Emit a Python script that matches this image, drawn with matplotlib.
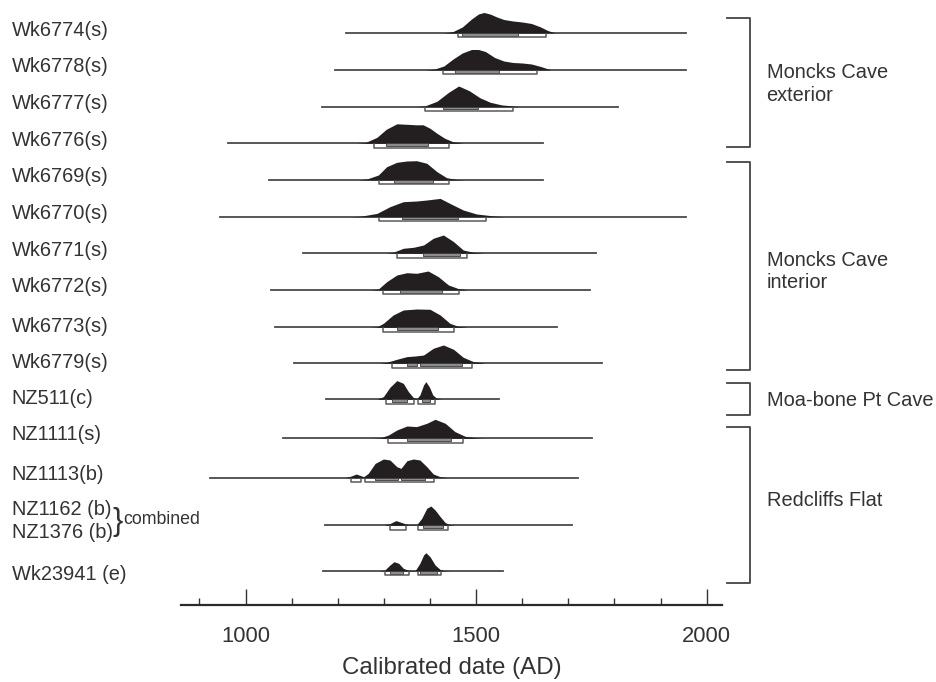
import matplotlib
matplotlib.use('Agg')
import matplotlib.pyplot as plt
from matplotlib.patches import Rectangle
from matplotlib.ticker import FixedLocator

plt.rcParams['font.family'] = ['Liberation Sans', 'DejaVu Sans']

# sample labels (combined row has two names)
labels = ['Wk6774(s)', 'Wk6778(s)', 'Wk6777(s)', 'Wk6776(s)', 'Wk6769(s)',
          'Wk6770(s)', 'Wk6771(s)', 'Wk6772(s)', 'Wk6773(s)', 'Wk6779(s)',
          'NZ511(c)', 'NZ1111(s)', 'NZ1113(b)', 'NZ1162 (b)\nNZ1376 (b)',
          'Wk23941 (e)']

# extent of the calibration line for each sample (AD)
line_start = [1218, 1193, 1165, 963, 1050, 945, 1124, 1055, 1064, 1104,
              1175, 1082, 922, 1172, 1167]
line_end = [1956, 1956, 1807, 1646, 1646, 1955, 1760, 1746, 1676, 1772,
            1550, 1752, 1721, 1708, 1558]

# 68% and 95% ranges
r68 = [[(1470, 1590)], [(1454, 1550)], [(1429, 1505)], [(1305, 1395)],
       [(1321, 1406)], [(1340, 1460)], [(1384, 1465)], [(1335, 1425)],
       [(1328, 1417)], [(1350, 1371), (1378, 1469)],
       [(1317, 1350), (1383, 1400)], [(1350, 1445)],
       [(1280, 1331), (1338, 1390)], [(1384, 1429)],
       [(1313, 1342), (1378, 1415)]]
r95 = [[(1460, 1652)], [(1429, 1631)], [(1389, 1580)], [(1279, 1441)],
       [(1290, 1441)], [(1290, 1522)], [(1329, 1480)], [(1299, 1462)],
       [(1299, 1451)], [(1318, 1491)],
       [(1304, 1365), (1375, 1410)], [(1308, 1471)],
       [(1229, 1250), (1259, 1409)], [(1313, 1347), (1373, 1438)],
       [(1303, 1355), (1373, 1424)]]

# probability distributions (year, relative height)
dens_years = [
    [1430, 1450, 1470, 1490, 1505, 1517, 1530, 1545, 1560, 1580, 1600, 1620, 1640, 1655, 1670],
    [1390, 1410, 1430, 1450, 1470, 1490, 1505, 1520, 1540, 1560, 1580, 1600, 1620, 1640, 1660],
    [1370, 1390, 1415, 1440, 1462, 1485, 1508, 1530, 1555, 1590],
    [1240, 1260, 1285, 1305, 1328, 1350, 1370, 1385, 1400, 1415, 1432, 1450, 1470],
    [1245, 1263, 1288, 1306, 1328, 1350, 1371, 1393, 1415, 1436, 1458, 1475],
    [1230, 1250, 1285, 1313, 1342, 1371, 1393, 1422, 1443, 1472, 1501, 1537, 1560],
    [1305, 1320, 1342, 1364, 1386, 1407, 1429, 1451, 1472, 1494, 1515],
    [1270, 1288, 1306, 1328, 1350, 1371, 1396, 1418, 1440, 1461, 1480],
    [1270, 1285, 1299, 1320, 1342, 1371, 1400, 1422, 1443, 1461, 1480],
    [1290, 1306, 1328, 1350, 1368, 1386, 1407, 1429, 1451, 1472, 1494, 1516],
    [1285, 1299, 1313, 1328, 1342, 1353, 1364, 1371, 1378, 1386, 1391, 1399, 1406, 1415, 1425],
    [1270, 1292, 1310, 1328, 1350, 1371, 1393, 1411, 1433, 1454, 1476, 1501, 1520],
    [1215, 1228, 1240, 1250, 1256, 1266, 1281, 1299, 1313, 1328, 1337, 1350, 1364, 1378, 1393, 1407, 1422, 1436],
    [1300, 1313, 1326, 1339, 1353, 1371, 1382, 1393, 1402, 1411, 1422, 1433, 1444, 1455],
    [1290, 1302, 1313, 1322, 1332, 1342, 1353, 1368, 1378, 1386, 1391, 1400, 1411, 1422, 1433, 1445],
]
dens_h = [
    [0, 1.5, 6, 14, 19, 20.5, 19, 16, 13.5, 12, 11, 9.5, 6, 2.5, 0.3],
    [0, 1, 4, 11, 17, 20.5, 20.5, 18.5, 12.5, 9, 7.5, 7, 6, 3.5, 0.5],
    [0, 1, 5.4, 14.3, 20.7, 16, 9, 4.5, 1.8, 0.3],
    [0, 0.8, 6, 14, 19.5, 19, 18.5, 18.5, 15, 10, 5, 1.5, 0.2],
    [0, 1, 5, 13.3, 17.7, 19, 19.3, 16.7, 8.3, 2.3, 0.5, 0],
    [0, 0.5, 3.3, 10, 15, 15.7, 16.7, 18.3, 13.3, 6.7, 2.7, 0.8, 0],
    [0, 1, 5, 6, 8.3, 15, 18.3, 11.7, 3.3, 1, 0.2],
    [0, 1, 8.3, 15, 17.3, 16.7, 19, 13.3, 5, 1.5, 0.3],
    [0, 0.5, 4, 12.3, 17.3, 18.3, 18, 12.3, 4, 1, 0.2],
    [0, 1, 4, 6.7, 7.3, 8.3, 15, 18.3, 14, 6, 1.7, 0.4],
    [0, 2.7, 12, 18.7, 16, 7.7, 1.7, 0.5, 4.3, 14.3, 17.7, 12, 4.3, 0.8, 0],
    [0, 0.5, 3.3, 8.3, 12.3, 11.7, 15, 19, 15, 6.7, 2, 0.5, 0],
    [0, 1.5, 3.7, 2, 1, 4.3, 14.3, 18.7, 17.7, 11, 9.3, 17, 18.7, 17.7, 11, 3.7, 1, 0.2],
    [0, 1.7, 4.7, 2.7, 0.5, 0.5, 7, 17, 19.3, 15.3, 8.7, 2.7, 0.5, 0],
    [0, 1, 6, 9.3, 7.7, 2.7, 0.7, 0.5, 7.7, 16, 18.3, 14.3, 6, 1.5, 0.3, 0],
]

groups = ['Moncks Cave\nexterior', 'Moncks Cave\ninterior', 'Moa-bone Pt Cave', 'Redcliffs Flat']

# layout (pixel rows of the original figure)
row_y = [33, 70, 106.7, 143.3, 180, 216.7, 253.3, 290, 327.3, 363.3,
         399.3, 438.3, 477.7, 525.3, 571]
label_y = [30.7, 66.7, 103.3, 140, 176.7, 213.3, 250, 286.7, 326, 362,
           398, 434.7, 474.7, 521, 574]
group_top = [18, 162, 382.7, 426.7]
group_bot = [146.7, 370, 415, 583.3]
group_lab_y = [84, 271.5, 400, 500]

txt = '#333333'
fig = plt.figure(figsize=(9.36, 6.82), dpi=100)
ax = fig.add_axes([181 / 936, 77 / 682, 540.7 / 936, 605 / 682])
ax.set_xlim(860, 2032.5)
ax.set_ylim(605, 0)

for i in range(len(labels)):
    base = row_y[i]
    ax.plot([line_start[i], line_end[i]], [base, base], color='#4a4a4a', lw=1.3, zorder=2)
    ys = [base - h for h in dens_h[i]]
    ax.fill_between(dens_years[i], ys, base, color='#231f20', lw=0, zorder=3)
    for a, b in r68[i]:
        ax.add_patch(Rectangle((a, base), b - a, 2.6, facecolor='#8c8c8c',
                               edgecolor='#3a3a3a', lw=0.6, zorder=4))
    for a, b in r95[i]:
        ax.plot([a, a, b, b], [base + 1, base + 4.2, base + 4.2, base + 1],
                color='#5a5a5a', lw=1.1, zorder=4)
    if '\n' in labels[i]:
        top, bottom = labels[i].split('\n')
        ax.text(-0.313, label_y[i] - 11.5, top, transform=ax.get_yaxis_transform(),
                ha='left', va='center', fontsize=14.4, color=txt)
        ax.text(-0.313, label_y[i] + 12, bottom, transform=ax.get_yaxis_transform(),
                ha='left', va='center', fontsize=14.4, color=txt)
        ax.text(-0.126, label_y[i] + 1, '}', transform=ax.get_yaxis_transform(),
                ha='left', va='center', fontsize=22, color=txt)
        ax.text(-0.106, label_y[i] - 1, 'combined', transform=ax.get_yaxis_transform(),
                ha='left', va='center', fontsize=12.8, color=txt)
    else:
        ax.text(-0.313, label_y[i], labels[i], transform=ax.get_yaxis_transform(),
                ha='left', va='center', fontsize=14.4, color=txt)

for g in range(len(groups)):
    ax.plot([1.0098, 1.0522, 1.0522, 1.0098], [group_top[g], group_top[g], group_bot[g], group_bot[g]],
            transform=ax.get_yaxis_transform(), clip_on=False, color='#444444', lw=1.3)
    ax.text(1.083, group_lab_y[g], groups[g], transform=ax.get_yaxis_transform(),
            ha='left', va='center', fontsize=14.4, color=txt, linespacing=1.25)

for s in ['top', 'right', 'left']:
    ax.spines[s].set_visible(False)
ax.spines['bottom'].set_linewidth(1.6)
ax.spines['bottom'].set_color('#2b2b2b')
ax.set_yticks([])
ax.set_xticks([1000, 1500, 2000])
ax.xaxis.set_minor_locator(FixedLocator(list(range(900, 2001, 100))))
ax.tick_params(axis='x', which='major', direction='in', length=11.5, width=1,
               pad=15, labelsize=15.8, color='#333333', labelcolor=txt)
ax.tick_params(axis='x', which='minor', direction='in', length=5, width=1, color='#333333')
ax.set_xlabel('Calibrated date (AD)', fontsize=17.4, color=txt, labelpad=7)

fig.savefig('out.png', dpi=100)
